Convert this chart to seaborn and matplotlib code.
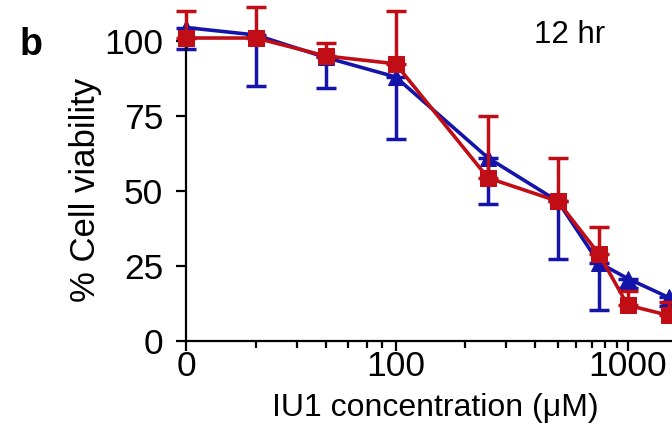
import matplotlib
matplotlib.use("Agg")
import matplotlib.pyplot as plt
import seaborn as sns
import numpy as np
import pandas as pd

# ---- data ----
conc = [0, 25, 50, 100, 250, 500, 750, 1000, 1500]          # IU1 concentration (uM)
blue_mean = [104.5, 102, 94.5, 88, 61, 46.5, 26, 20.7, 14.4]
blue_lower = [97.2, 85, 84.3, 67.2, 45.7, 27.2, 10.1, 17.5, 11.5]  # error bars drawn downward
red_mean = [101, 101, 95, 92.4, 54.3, 46.5, 29, 11.8, 8.4]
red_upper = [110, 111.5, 99.4, 110, 75, 61, 38, 16.6, 12.9]   # error bars drawn upward
zero_pos = 12.5  # where "0" sits on the log axis
x_major = [12.5, 100, 1000]
x_major_labels = ["0", "100", "1000"]
x_minor = [25, 37.5, 50, 62.5, 75, 87.5, 200, 300, 400, 500, 600, 700, 800, 900, 2000, 3000]
y_ticks = [0, 25, 50, 75, 100]

BLUE = "#1414aa"
RED = "#c00d16"

sns.set_theme(style="ticks")
plt.rcParams["font.family"] = ["Liberation Sans", "DejaVu Sans"]

xpos = [zero_pos if c == 0 else c for c in conc]
df = pd.DataFrame({
    "x": xpos * 2,
    "y": blue_mean + red_mean,
    "series": ["blue"] * len(conc) + ["red"] * len(conc),
})

fig = plt.figure(figsize=(6.72, 4.24), dpi=100)
ax = fig.add_axes([186 / 672, (424 - 340.5) / 424, (738.4 - 186) / 672, 299.5 / 424])

# error bars (one-sided)
b_err = [np.array(blue_mean) - np.array(blue_lower), np.zeros(len(conc))]
r_err = [np.zeros(len(conc)), np.array(red_upper) - np.array(red_mean)]
eb1 = ax.errorbar(xpos, blue_mean, yerr=b_err, fmt="none", ecolor=BLUE,
                  elinewidth=2.5, capsize=7, capthick=2.5, zorder=2, clip_on=False)
sns.lineplot(data=df[df.series == "blue"], x="x", y="y", ax=ax, color=BLUE,
             marker="^", markersize=11, markeredgecolor=BLUE, linewidth=2.6,
             zorder=3, clip_on=False)
eb2 = ax.errorbar(xpos, red_mean, yerr=r_err, fmt="none", ecolor=RED,
                  elinewidth=2.5, capsize=7, capthick=2.5, zorder=4, clip_on=False)
sns.lineplot(data=df[df.series == "red"], x="x", y="y", ax=ax, color=RED,
             marker="s", markersize=12, markeredgecolor=RED, linewidth=2.6,
             zorder=5, clip_on=False)
for eb in (eb1, eb2):
    for part in eb.lines:
        if part is None:
            continue
        if isinstance(part, tuple):
            for p in part:
                p.set_clip_on(False)
        else:
            part.set_clip_on(False)

ax.set_xscale("log")
ax.set_xlim(12.5, 3000)
ax.set_ylim(0, 100)
ax.set_xticks(x_major)
ax.set_xticklabels(x_major_labels)
ax.set_xticks(x_minor, minor=True)
ax.set_xticklabels([], minor=True)
ax.set_yticks(y_ticks)
ax.set_yticklabels([str(v) for v in y_ticks])

sns.despine(ax=ax)
for s in ("left", "bottom"):
    ax.spines[s].set_linewidth(1.6)
    ax.spines[s].set_color("black")
ax.tick_params(axis="both", which="major", labelsize=25.5, length=7, width=1.6,
               color="black", labelcolor="black")
ax.tick_params(axis="x", which="major", pad=0)
ax.tick_params(axis="y", which="major", pad=9.5)
ax.tick_params(axis="x", which="minor", length=5, width=1.6, color="black")

ax.set_xlabel("IU1 concentration (\u03bcM)", fontsize=23, color="black")
ax.set_ylabel("% Cell viability", fontsize=25, color="black")
ax.xaxis.set_label_coords(0.4508, -0.176)
ax.yaxis.set_label_coords(-0.152, 0.504)

fig.text(20 / 672, 1 - 55 / 424, "b", fontsize=27, fontweight="bold", color="black")
fig.text(534 / 672, 1 - 43 / 424, "12 hr", fontsize=22.5, color="black")

fig.savefig("out.png", dpi=100)
